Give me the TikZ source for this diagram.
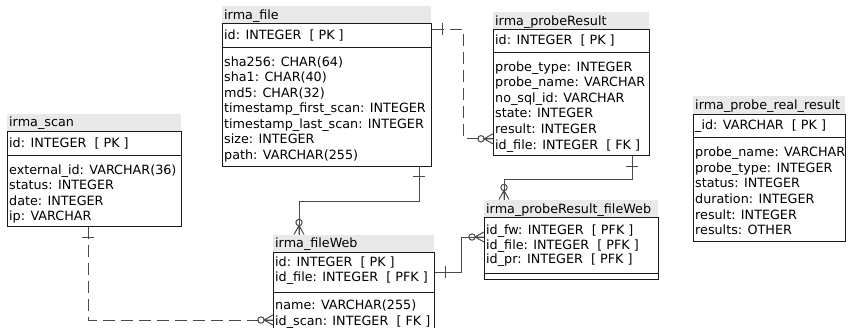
\documentclass[tikz,border=0pt]{standalone}
\usepackage{fontspec}
\setmainfont{DejaVu Sans}
\definecolor{titlegray}{HTML}{E9E9E9}
\definecolor{linkgray}{HTML}{4A4A4A}
\definecolor{framecol}{HTML}{1A1A1A}
\tikzset{
  tabtitle/.style={fill=titlegray, draw=none, inner sep=0, anchor=north west},
  tabpart/.style={draw=framecol, line width=1.1pt, inner sep=0, anchor=north west},
  cell/.style={anchor=base west, inner sep=0, text=black,
    font=\fontsize{12.75}{15}\selectfont},
  link/.style={draw=linkgray, line width=1pt},
  optlink/.style={link, dash pattern=on 12pt off 6pt},
  onebar/.pic={\draw[linkgray, line width=1pt] (0,-6) -- (0,6);},
  zeromany/.pic={
    \draw[linkgray, line width=1pt] (0,5) -- (-9,0) -- (0,-5) (0,0) -- (-9,0);
    \draw[linkgray, line width=1pt] (-12,0) circle (3.2);}
}
\begin{document}
\begin{tikzpicture}[x=1pt, y=1pt]
\useasboundingbox (0,0) rectangle (849,-327);

% ---------- irma_file ----------
\node[tabtitle, minimum width=209pt, minimum height=17.3pt] (file-t) at (222,-6) {};
\node[tabpart, minimum width=209pt, minimum height=23.4pt] (file-pk) at (222,-23.3) {};
\node[tabpart, minimum width=209pt, minimum height=119pt] (file-at) at (222,-46.7) {};
\node[cell] (file-tt) at (224,-19) {irma\_file};
\node[cell] (file-k0) at (224,-39.3) {id: INTEGER\ \ [ PK ]};
\foreach \t [count=\i from 0] in {{sha256: CHAR(64)},{sha1: CHAR(40)},{md5: CHAR(32)},
  {timestamp\_first\_scan: INTEGER},{timestamp\_last\_scan: INTEGER},{size: INTEGER},{path: VARCHAR(255)}}
  \node[cell] (file-a\i) at (224,{-66-15.55*\i}) {\t};

% ---------- irma_probeResult ----------
\node[tabtitle, minimum width=156pt, minimum height=17.5pt] (pr-t) at (493,-11.5) {};
\node[tabpart, minimum width=156pt, minimum height=23pt] (pr-pk) at (493,-29) {};
\node[tabpart, minimum width=156pt, minimum height=103pt] (pr-at) at (493,-52) {};
\node[cell] (pr-tt) at (495,-25) {irma\_probeResult};
\node[cell] (pr-k0) at (495,-44.8) {id: INTEGER\ \ [ PK ]};
\foreach \t [count=\i from 0] in {{probe\_type: INTEGER},{probe\_name: VARCHAR},{no\_sql\_id: VARCHAR},
  {state: INTEGER},{result: INTEGER},{id\_file: INTEGER\ \ [ FK ]}}
  \node[cell] (pr-a\i) at (495,{-71.3-15.55*\i}) {\t};

% ---------- irma_scan ----------
\node[tabtitle, minimum width=174pt, minimum height=17.5pt] (scan-t) at (7,-113.5) {};
\node[tabpart, minimum width=174pt, minimum height=23.5pt] (scan-pk) at (7,-131) {};
\node[tabpart, minimum width=174pt, minimum height=71pt] (scan-at) at (7,-154.5) {};
\node[cell] (scan-tt) at (9,-126.3) {irma\_scan};
\node[cell] (scan-k0) at (9,-147) {id: INTEGER\ \ [ PK ]};
\foreach \t [count=\i from 0] in {{external\_id: VARCHAR(36)},{status: INTEGER},{date: INTEGER},{ip: VARCHAR}}
  \node[cell] (scan-a\i) at (9,{-174.1-15.55*\i}) {\t};

% ---------- irma_probe_real_result ----------
\node[tabtitle, minimum width=152pt, minimum height=17.5pt] (rr-t) at (693,-96.2) {};
\node[tabpart, minimum width=152pt, minimum height=23.3pt] (rr-pk) at (693,-113.7) {};
\node[tabpart, minimum width=152pt, minimum height=103.5pt] (rr-at) at (693,-137) {};
\node[cell] (rr-tt) at (695,-109.6) {irma\_probe\_real\_result};
\node[cell] (rr-k0) at (695,-129.6) {\_id: VARCHAR\ \ [ PK ]};
\foreach \t [count=\i from 0] in {{probe\_name: VARCHAR},{probe\_type: INTEGER},{status: INTEGER},
  {duration: INTEGER},{result: INTEGER},{results: OTHER}}
  \node[cell] (rr-a\i) at (695,{-156.8-15.55*\i}) {\t};

% ---------- irma_fileWeb ----------
\node[tabtitle, minimum width=161pt, minimum height=17.2pt] (fw-t) at (273,-234.5) {};
\node[tabpart, minimum width=161pt, minimum height=40pt] (fw-pk) at (273,-251.7) {};
\node[tabpart, minimum width=161pt, minimum height=40pt] (fw-at) at (273,-291.7) {};
\node[cell] (fw-tt) at (275,-247.6) {irma\_fileWeb};
\node[cell] (fw-k0) at (275,-266) {id: INTEGER\ \ [ PK ]};
\node[cell] (fw-k1) at (275,-281.5) {id\_file: INTEGER\ \ [ PFK ]};
\node[cell] (fw-a0) at (275,-309.8) {name: VARCHAR(255)};
\node[cell] (fw-a1) at (275,-325.3) {id\_scan: INTEGER\ \ [ FK ]};

% ---------- irma_probeResult_fileWeb ----------
\node[tabtitle, minimum width=174pt, minimum height=17.5pt] (prfw-t) at (484,-199.5) {};
\node[tabpart, minimum width=174pt, minimum height=56pt] (prfw-pk) at (484,-217) {};
\node[tabpart, minimum width=174pt, minimum height=6pt] (prfw-at) at (484,-273) {};
\node[cell] (prfw-tt) at (486,-213.5) {irma\_probeResult\_fileWeb};
\foreach \t [count=\i from 0] in {{id\_fw: INTEGER\ \ [ PFK ]},{id\_file: INTEGER\ \ [ PFK ]},{id\_pr: INTEGER\ \ [ PFK ]}}
  \node[cell] (prfw-k\i) at (486,{-234.3-14.8*\i}) {\t};

% ---------- relationship ends ----------
\coordinate (c1a) at ([yshift=-6pt]file-pk.north east);
\coordinate (c1b) at ([yshift=17.3pt]pr-at.south west);
\coordinate (c2a) at ([xshift=-13pt]file-at.south east);
\coordinate (c2b) at ([xshift=26pt]fw-t.north west);
\coordinate (c3a) at ([xshift=81pt]scan-at.south west);
\coordinate (c3b) at ([yshift=-28.3pt]fw-at.north west);
\coordinate (c4a) at (fw-pk.east);
\coordinate (c4b) at ([yshift=-20pt]prfw-pk.north west);
\coordinate (c5a) at ([xshift=-18pt]pr-at.south east);
\coordinate (c5b) at ([xshift=20pt]prfw-t.north west);

% irma_file -> irma_probeResult (optional)
\draw[optlink] (c1a) -- ++(31,0) |- (c1b);
\pic at ([xshift=10pt]c1a) {onebar};
\pic at (c1b) {zeromany};

% irma_file -> irma_fileWeb
\draw[link] (c2a) -- ++(0,-35) -| (c2b);
\pic[rotate=90] at ([yshift=-10pt]c2a) {onebar};
\pic[rotate=-90] at (c2b) {zeromany};

% irma_scan -> irma_fileWeb (optional)
\draw[optlink] (c3a) |- (c3b);
\pic[rotate=90] at ([yshift=-11pt]c3a) {onebar};
\pic at (c3b) {zeromany};

% irma_fileWeb -> irma_probeResult_fileWeb
\draw[link] (c4a) -- ++(26,0) |- (c4b);
\pic at ([xshift=10pt]c4a) {onebar};
\pic at (c4b) {zeromany};

% irma_probeResult -> irma_probeResult_fileWeb
\draw[link] (c5a) -- ++(0,-23) -| (c5b);
\pic[rotate=90] at ([yshift=-10pt]c5a) {onebar};
\pic[rotate=-90] at (c5b) {zeromany};
\end{tikzpicture}
\end{document}
